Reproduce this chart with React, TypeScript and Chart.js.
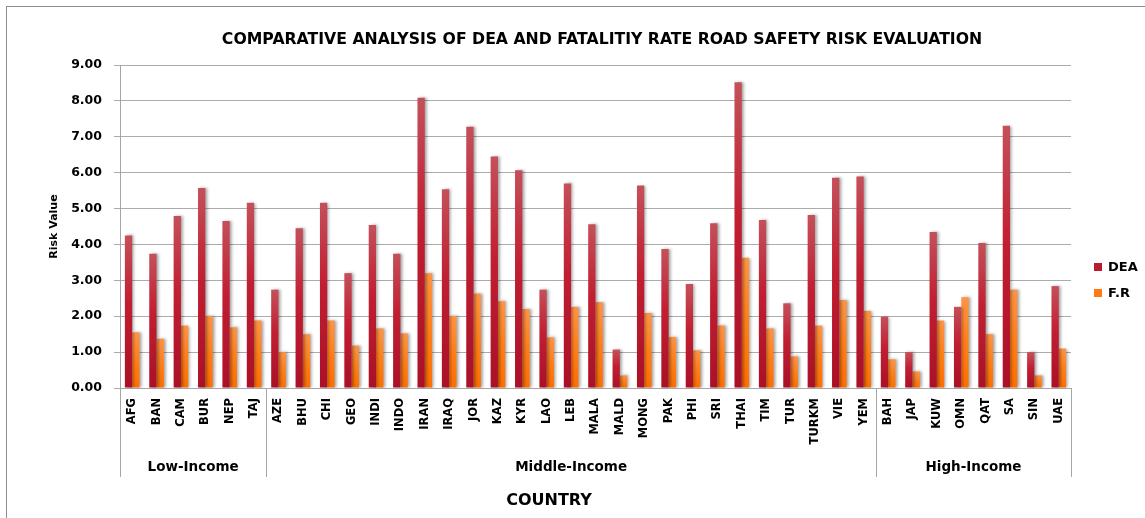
import React, { useEffect, useRef } from "react";
import { Chart, registerables } from "chart.js";

Chart.register(...registerables);

const countries = [
  "AFG", "BAN", "CAM", "BUR", "NEP", "TAJ",
  "AZE", "BHU", "CHI", "GEO", "INDI", "INDO", "IRAN", "IRAQ", "JOR", "KAZ", "KYR", "LAO", "LEB", "MALA", "MALD", "MONG", "PAK", "PHI", "SRI", "THAI", "TIM", "TUR", "TURKM", "VIE", "YEM",
  "BAH", "JAP", "KUW", "OMN", "QAT", "SA", "SIN", "UAE",
];

const deaValues = [
  4.25, 3.74, 4.79, 5.57, 4.65, 5.16,
  2.74, 4.45, 5.16, 3.2, 4.54, 3.74, 8.09, 5.54, 7.28, 6.45, 6.07, 2.74, 5.7, 4.56, 1.07, 5.64, 3.87, 2.9, 4.59, 8.52, 4.68, 2.36, 4.82, 5.86, 5.89,
  1.99, 1.0, 4.35, 2.26, 4.04, 7.31, 1.0, 2.84,
];

const frValues = [
  1.55, 1.37, 1.74, 2.01, 1.69, 1.88,
  1.0, 1.5, 1.88, 1.18, 1.66, 1.52, 3.2, 2.01, 2.63, 2.42, 2.2, 1.41, 2.26, 2.39, 0.35, 2.09, 1.42, 1.05, 1.74, 3.63, 1.66, 0.88, 1.74, 2.45, 2.15,
  0.8, 0.46, 1.88, 2.53, 1.5, 2.74, 0.35, 1.1,
];

const groupNames = ["Low-Income", "Middle-Income", "High-Income"];
const groupSizes = [6, 25, 8];

const seriesNames = ["DEA", "F.R"];
const chartTitle = "COMPARATIVE ANALYSIS OF DEA AND FATALITIY RATE ROAD SAFETY RISK EVALUATION";
const yTitle = "Risk Value";
const xTitle = "COUNTRY";

const FONT = "'DejaVu Sans', sans-serif";

function makeGradient(stops: [number, string][]) {
  return (ctx: any) => {
    const chart = ctx.chart;
    const fallback = stops[stops.length - 1][1];
    if (!chart.chartArea || ctx.type !== "data") return fallback;
    const y = chart.scales.y;
    const v = ctx.raw as number;
    const top = y.getPixelForValue(v);
    const bottom = y.getPixelForValue(0);
    if (!isFinite(top) || !isFinite(bottom) || bottom - top < 1) return fallback;
    const g = chart.ctx.createLinearGradient(0, top, 0, bottom);
    stops.forEach(([o, c]) => g.addColorStop(o, c));
    return g;
  };
}

const deaStops: [number, string][] = [
  [0, "#C4505A"],
  [0.45, "#C11E31"],
  [1, "#AA1027"],
];
const frStops: [number, string][] = [
  [0, "#FF9445"],
  [0.5, "#FF7F1A"],
  [1, "#FF6E00"],
];
const legendColors = ["#B91A2E", "#FF7A12"];

const shadowPlugin = {
  id: "barShadow",
  beforeDatasetsDraw(chart: any) {
    const c = chart.ctx;
    c.save();
    c.shadowColor = "rgba(0,0,0,0.35)";
    c.shadowBlur = 3;
    c.shadowOffsetX = 2;
    c.shadowOffsetY = 0;
  },
  afterDatasetsDraw(chart: any) {
    chart.ctx.restore();
  },
};

const decorPlugin = {
  id: "decor",
  afterDraw(chart: any) {
    const c = chart.ctx;
    const x = chart.scales.x;
    const area = chart.chartArea;
    c.save();
    // outer chart frame
    c.strokeStyle = "#8C8C8C";
    c.lineWidth = 1;
    c.strokeRect(6.5, 6.5, chart.width + 20, chart.height + 20);

    // chart title
    c.fillStyle = "#000";
    c.font = `bold 15.7px ${FONT}`;
    c.textAlign = "center";
    c.textBaseline = "middle";
    c.fillText(chartTitle, 602, 40);

    // group boundaries
    const n = countries.length;
    const bounds: number[] = [];
    let acc = 0;
    bounds.push(area.left);
    groupSizes.forEach((s) => {
      acc += s;
      if (acc >= n) bounds.push(area.right);
      else bounds.push((x.getPixelForValue(acc - 1) + x.getPixelForValue(acc)) / 2);
    });
    c.strokeStyle = "#A6A6A6";
    c.lineWidth = 1;
    bounds.forEach((b) => {
      const bx = Math.round(b) + 0.5;
      c.beginPath();
      c.moveTo(bx, area.bottom);
      c.lineTo(bx, area.bottom + 89);
      c.stroke();
    });
    c.fillStyle = "#000";
    c.font = `bold 13.5px ${FONT}`;
    groupNames.forEach((g, i) => {
      c.fillText(g, (bounds[i] + bounds[i + 1]) / 2, area.bottom + 79);
    });

    // x axis title
    c.font = `bold 16px ${FONT}`;
    c.fillText(xTitle, 549, 501);

    // legend
    c.font = `bold 13px ${FONT}`;
    c.textAlign = "left";
    seriesNames.forEach((s, i) => {
      const cy = 267 + i * 26;
      c.fillStyle = legendColors[i];
      c.fillRect(1094, cy - 4, 8, 8);
      c.fillStyle = "#000";
      c.fillText(s, 1108, cy + 1);
    });
    c.restore();
  },
};

export default function App() {
  const ref = useRef<HTMLCanvasElement | null>(null);

  useEffect(() => {
    document.body.style.margin = "0";
    document.body.style.overflow = "hidden";
    const canvas = ref.current;
    if (!canvas) return;
    const chart = new Chart(canvas, {
      type: "bar",
      data: {
        labels: countries,
        datasets: [
          {
            label: seriesNames[0],
            data: deaValues,
            backgroundColor: makeGradient(deaStops),
            borderWidth: 0,
            categoryPercentage: 0.6,
            barPercentage: 1,
          },
          {
            label: seriesNames[1],
            data: frValues,
            backgroundColor: makeGradient(frStops),
            borderWidth: 0,
            categoryPercentage: 0.6,
            barPercentage: 1,
          },
        ],
      },
      options: {
        responsive: false,
        animation: false,
        layout: { padding: { left: 48, right: 74, top: 65, bottom: 0 } },
        plugins: {
          legend: { display: false },
          tooltip: { enabled: false },
          title: { display: false },
        },
        scales: {
          x: {
            grid: { display: false, drawTicks: false },
            border: { display: true, color: "#A6A6A6" },
            ticks: {
              color: "#000",
              font: { family: FONT, size: 11.5, weight: "bold" },
              minRotation: 90,
              maxRotation: 90,
              autoSkip: false,
              padding: 10,
            },
            afterFit: (s: any) => {
              s.height = 130;
            },
          },
          y: {
            min: 0,
            max: 9,
            ticks: {
              stepSize: 1,
              color: "#000",
              font: { family: FONT, size: 12.5, weight: "bold" },
              padding: 12,
              callback: (v: any) => Number(v).toFixed(2),
            },
            grid: { color: "#ABABAB", lineWidth: 1, tickLength: 6 },
            border: { display: true, color: "#A6A6A6" },
            title: {
              display: true,
              text: yTitle,
              color: "#000",
              font: { family: FONT, size: 11, weight: "bold" },
              padding: 0,
            },
            afterFit: (s: any) => {
              s.width = 72;
            },
          },
        },
      },
      plugins: [shadowPlugin, decorPlugin],
    });
    return () => chart.destroy();
  }, []);

  return <canvas ref={ref} width={1145} height={518} style={{ display: "block" }} />;
}
